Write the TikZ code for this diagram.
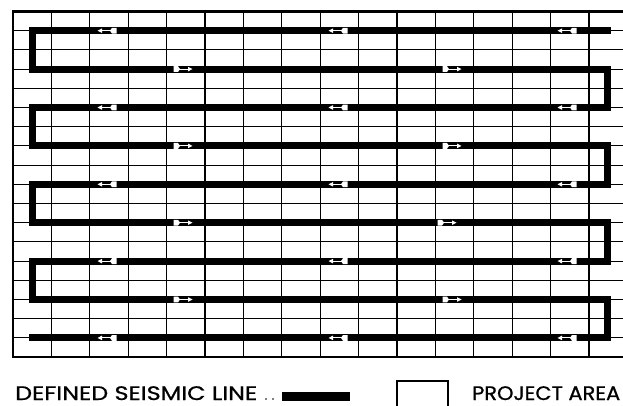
\documentclass[tikz,border=0pt]{standalone}
\usepackage{fontspec}
\setmainfont{Poppins}
\newfontfamily\legfont[FakeBold=0.8]{Poppins}
\begin{document}
\begin{tikzpicture}[x=1pt,y=-1pt,
  gridline/.style={line width=1.1pt,black},
  frameline/.style={line width=2.2pt,black},
  seismic/.style={line width=7pt,black,line cap=rect,line join=miter},
  arrL/.pic={
    \fill[white] (-9.5,0) -- (-5,-2.3) -- (-5,2.3) -- cycle;
    \draw[white,line width=1.1pt] (-5.5,0) -- (4,0);
    \fill[white] (3,0) -- (5,-2.9) -- (9.5,-2.9) -- (9.5,2.9) -- (5,2.9) -- cycle;
  },
  arrR/.pic={
    \fill[white] (9.5,0) -- (5,-2.3) -- (5,2.3) -- cycle;
    \draw[white,line width=1.1pt] (5.5,0) -- (-4,0);
    \fill[white] (-3,0) -- (-5,-2.9) -- (-9.5,-2.9) -- (-9.5,2.9) -- (-5,2.9) -- cycle;
  },
  legtext/.style={font=\legfont\fontsize{19.5}{20}\selectfont,inner sep=0pt,anchor=base west}
]
\useasboundingbox (0,0) rectangle (623,406);
\fill[white] (0,0) rectangle (623,406);
\begin{scope}
\clip (0,0) rectangle (623,406);
% grid
\foreach \k in {1,...,16} {
  \draw[gridline] ({13+38.4*\k},11.5) -- ({13+38.4*\k},357.1);
}
\foreach \j in {1,...,17} {
  \draw[gridline] (13,{11.5+19.2*\j}) -- (630,{11.5+19.2*\j});
}
\draw[frameline] (630,11.5) -- (13,11.5) -- (13,357.1) -- (630,357.1);
% seismic line
\foreach \i/\y in {1/30.7,2/69.1,3/107.5,4/145.9,5/184.3,6/222.7,7/261.1,8/299.5,9/337.9} {
  \coordinate (L\i) at (32.5,\y);
  \coordinate (R\i) at (607,\y);
}
\draw[seismic] (R1) -- (L1) -- (L2) -- (R2) -- (R3) -- (L3) -- (L4) -- (R4) -- (R5) -- (L5)
  -- (L6) -- (R6) -- (R7) -- (L7) -- (L8) -- (R8) -- (R9) -- (L9);
% arrows
\foreach \y in {30.7,107.5,184.3,261.1,337.9} {
  \foreach \x in {107,338,567} { \pic at (\x,\y) {arrL}; }
}
\foreach \y/\xb in {69.1/452,145.9/452,222.7/447,299.5/452} {
  \pic at (183,\y) {arrR};
  \pic at (\xb,\y) {arrR};
}
\end{scope}
% legend
\node[legtext] (defl) at (15,400) {\resizebox{242pt}{13.8pt}{DEFINED SEISMIC LINE}};
\fill (266,399) circle (0.9) (273,399) circle (0.9);
\fill (282,391.5) rectangle (350,400.5);
\begin{scope}
\clip (0,0) rectangle (623,406);
\draw[line width=1.3pt] (397,381) rectangle (448,412);
\end{scope}
\node[legtext] (proj) at (472,400) {\resizebox{148pt}{13.8pt}{PROJECT AREA}};
\end{tikzpicture}
\end{document}
